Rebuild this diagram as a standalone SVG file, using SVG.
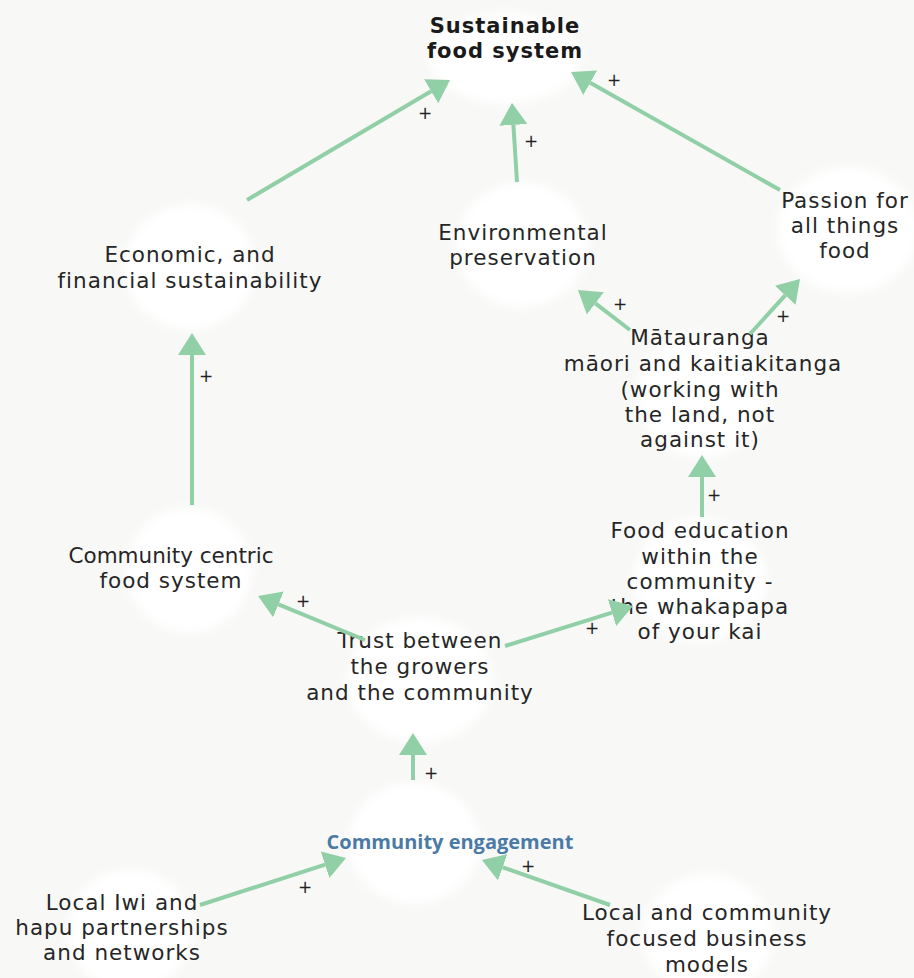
<svg xmlns="http://www.w3.org/2000/svg" width="914" height="978" viewBox="0 0 914 978">
<defs>
<style>
.bg{fill:#f8f9f7}
.blob{fill:#ffffff;filter:url(#soft)}
.t{font-family:"DejaVu Sans","Open Sans",sans-serif;font-size:21.5px;letter-spacing:1px;fill:#262626;text-anchor:middle}
.tight{letter-spacing:0px}
.tb{font-family:"DejaVu Sans","Open Sans",sans-serif;font-size:21px;letter-spacing:1px;font-weight:bold;fill:#1a1a1a;text-anchor:middle}
.tblue{font-family:"Open Sans","Liberation Sans",sans-serif;font-size:20px;font-weight:bold;fill:#4b7aa6;text-anchor:middle}
.c{stroke:#91cfa6;stroke-width:4;fill:none;marker-end:url(#ah)}
.p{font-family:"DejaVu Sans",sans-serif;font-size:17px;fill:#222;text-anchor:middle}
</style>
<filter id="soft" x="-20%" y="-20%" width="140%" height="140%">
<feGaussianBlur stdDeviation="5"/>
</filter>
<marker id="ah" markerUnits="userSpaceOnUse" markerWidth="22" markerHeight="28" refX="0" refY="14" orient="auto">
<path d="M0,0 L22,14 L0,28 Z" fill="#91cfa6"/>
</marker>
</defs>
<rect class="bg" x="0" y="0" width="914" height="978"/>
<g id="n-sustainable">
<ellipse class="blob" cx="505" cy="58" rx="75" ry="45"/>
<text class="tb" x="505" y="33">Sustainable</text>
<text class="tb" x="505" y="58">food system</text>
</g>
<g id="n-economic">
<ellipse class="blob" cx="190" cy="267" rx="65" ry="62"/>
<text class="t" x="190" y="262">Economic, and</text>
<text class="t" x="190" y="288">financial sustainability</text>
</g>
<g id="n-environmental">
<ellipse class="blob" cx="522" cy="245" rx="65" ry="62"/>
<text class="t" x="523" y="240">Environmental</text>
<text class="t" x="523" y="265">preservation</text>
</g>
<g id="n-passion">
<ellipse class="blob" cx="848" cy="230" rx="70" ry="62"/>
<text class="t" x="845" y="208">Passion for</text>
<text class="t" x="845" y="233">all things</text>
<text class="t" x="845" y="258">food</text>
</g>
<g id="n-matauranga">
<ellipse class="blob" cx="702" cy="395" rx="65" ry="62"/>
<text class="t" x="700" y="345">Mātauranga</text>
<text class="t" x="703" y="371">māori and kaitiakitanga</text>
<text class="t" x="700" y="397">(working with</text>
<text class="t" x="700" y="422">the land, not</text>
<text class="t" x="700" y="447">against it)</text>
</g>
<g id="n-food-education">
<ellipse class="blob" cx="700" cy="580" rx="65" ry="62"/>
<text class="t" x="700" y="538">Food education</text>
<text class="t" x="700" y="564">within the</text>
<text class="t" x="700" y="589">community -</text>
<text class="t" x="700" y="614">the whakapapa</text>
<text class="t" x="700" y="639">of your kai</text>
</g>
<g id="n-community-centric">
<ellipse class="blob" cx="189" cy="570" rx="62" ry="62"/>
<text class="t tight" x="171" y="563">Community centric</text>
<text class="t" x="171" y="588">food system</text>
</g>
<g id="n-trust">
<ellipse class="blob" cx="420" cy="680" rx="72" ry="62"/>
<text class="t" x="420" y="648">Trust between</text>
<text class="t" x="420" y="674">the growers</text>
<text class="t" x="420" y="700">and the community</text>
</g>
<g id="n-community-engagement">
<ellipse class="blob" cx="414" cy="843" rx="65" ry="60"/>
<text class="tblue" x="450" y="849">Community engagement</text>
</g>
<g id="n-local-iwi">
<ellipse class="blob" cx="130" cy="930" rx="62" ry="60"/>
<text class="t" x="122" y="910">Local Iwi and</text>
<text class="t" x="122" y="935">hapu partnerships</text>
<text class="t" x="122" y="960">and networks</text>
</g>
<g id="n-local-business">
<ellipse class="blob" cx="708" cy="935" rx="65" ry="60"/>
<text class="t" x="707" y="920">Local and community</text>
<text class="t" x="707" y="946">focused business</text>
<text class="t" x="707" y="972">models</text>
</g>
<g id="connectors">
<path class="c" d="M247,200 L431.1,91.2"/>
<path class="c" d="M517,182 L513.4,124.9"/>
<path class="c" d="M780,190 L590.2,82.8"/>
<path class="c" d="M630,330 L595.4,303.4"/>
<path class="c" d="M750,334 L785.2,295.3"/>
<path class="c" d="M702,517 L702,477"/>
<path class="c" d="M505,646 L612,612.6"/>
<path class="c" d="M365,640 L278.4,604.4"/>
<path class="c" d="M192,505 L192,355"/>
<path class="c" d="M413,780 L413,755"/>
<path class="c" d="M200,905 L325.1,864.7"/>
<path class="c" d="M610,905 L502.7,867.3"/>
<text class="p" x="425" y="119">+</text>
<text class="p" x="531" y="147">+</text>
<text class="p" x="614" y="86">+</text>
<text class="p" x="620" y="310">+</text>
<text class="p" x="783" y="322">+</text>
<text class="p" x="714" y="501">+</text>
<text class="p" x="592" y="634">+</text>
<text class="p" x="303" y="607">+</text>
<text class="p" x="206" y="382">+</text>
<text class="p" x="431" y="779">+</text>
<text class="p" x="305" y="893">+</text>
<text class="p" x="528" y="872">+</text>
</g>
</svg>
